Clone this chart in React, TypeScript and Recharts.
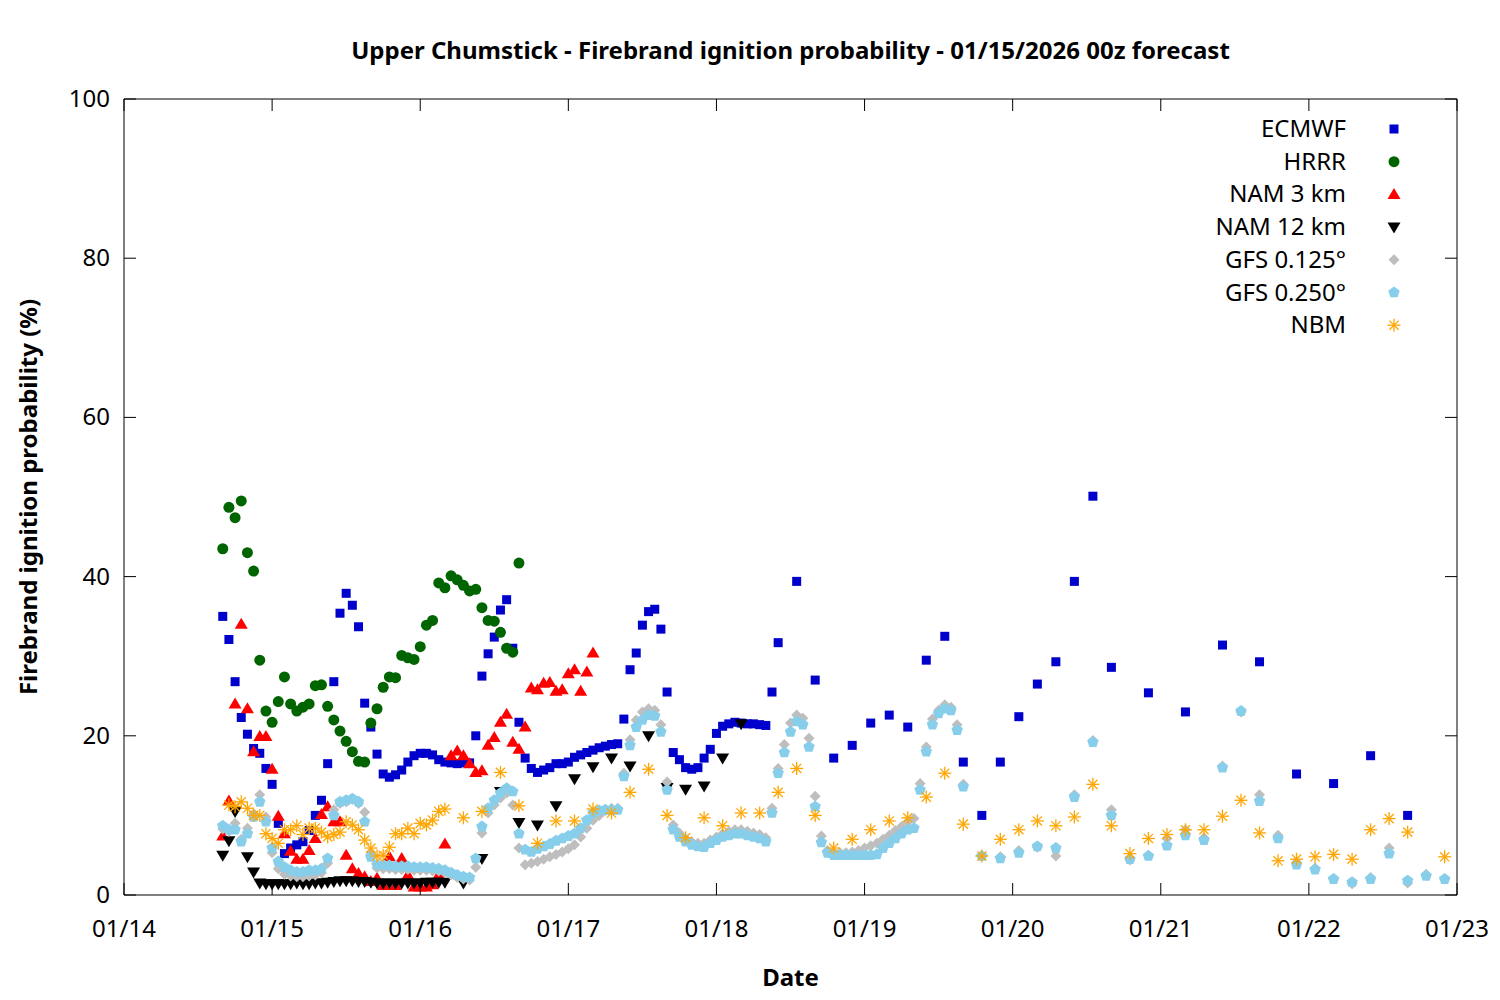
import React from 'react';
import { ScatterChart, Scatter, XAxis, YAxis } from 'recharts';

// hours counted from 01/14 00:00 local time
const dayLabels = ['01/14', '01/15', '01/16', '01/17', '01/18', '01/19', '01/20', '01/21', '01/22', '01/23'];
const xTicks = [0, 24, 48, 72, 96, 120, 144, 168, 192, 216];
const yTicks = [0, 20, 40, 60, 80, 100];

// ECMWF: hourly from h16, 3-hourly from h109, 6-hourly from h166
const ecmwfHourly = [35, 32.1, 26.8, 22.3, 20.2, 18.4, 17.8, 15.9, 13.9, 9.0,
  5.2, 5.9, 6.3, 6.7, 8.1, 10, 11.9, 16.5, 26.8, 35.4,
  37.9, 36.4, 33.7, 24.1, 21.1, 17.7, 15.2, 14.8, 15.1, 15.7,
  16.7, 17.5, 17.8, 17.8, 17.6, 17.0, 16.7, 16.6, 16.5, 16.6,
  16.6, 20, 27.5, 30.3, 32.4, 35.8, 37.1, 31.0, 21.7, 17.2,
  15.9, 15.4, 15.7, 16, 16.5, 16.5, 16.7, 17.3, 17.6, 17.9,
  18.2, 18.5, 18.7, 18.9, 19.0, 22.1, 28.3, 30.4, 33.9, 35.6,
  35.9, 33.4, 25.5, 17.9, 17.0, 16.0, 15.8, 16.0, 17.2, 18.3,
  20.3, 21.2, 21.5, 21.7, 21.6, 21.5, 21.5, 21.4, 21.3, 25.5, 31.7];
const ecmwf3h = [39.4, 27, 17.2, 18.8, 21.6, 22.6, 21.1, 29.5, 32.5, 16.7, 10, 16.7, 22.4, 26.5, 29.3, 39.4, 50.1, 28.6];
const ecmwf6h = [25.4, 23, 31.4, 29.3, 15.2, 14, 17.5, 10];

// HRRR: hourly from h16
const hrrrHourly = [43.5, 48.7, 47.4, 49.5, 43, 40.7, 29.5, 23.1, 21.7, 24.3,
  27.4, 24, 23.1, 23.6, 24, 26.3, 26.4, 23.7, 22, 20.6,
  19.3, 18, 16.8, 16.7, 21.6, 23.4, 26.1, 27.4, 27.3, 30.1,
  29.8, 29.6, 31.2, 33.9, 34.5, 39.2, 38.6, 40.1, 39.6, 38.9,
  38.2, 38.4, 36.1, 34.5, 34.4, 33.0, 31.0, 30.5, 41.7];

// NAM 3 km: hourly from h16
const nam3Hourly = [7.4, 11.8, 24, 34, 23.4, 18, 19.9, 19.9, 15.8, 9.9,
  7.7, 5.5, 4.5, 4.5, 5.6, 7.1, 10.1, 11.1, 9.2, 9.2,
  5.0, 3.3, 2.7, 2.3, 1.7, 2.1, 1.2, 4.8, 1.2, 4.6,
  2.5, 1.0, 1.0, 1.0, 1.3, 2.5, 6.4, 17.5, 18.1, 17.5,
  16.5, 15.4, 15.6, 18.8, 19.8, 21.7, 22.7, 19.2, 18.3, 21.1,
  26, 25.8, 26.6, 26.7, 25.6, 25.8, 27.8, 28.3, 25.6, 28.0, 30.4];

// NAM 12 km: hourly from h16, 3-hourly from h55
const nam12Hourly = [5.0, 6.8, 10.5, null, 4.8, 2.9, 1.5, 1.4, 1.4, 1.4,
  1.4, 1.4, 1.5, 1.4, 1.4, 1.5, 1.5, 1.6, 1.7, 1.8,
  1.8, 1.8, 1.7, 1.7, 1.6, 1.5, 1.5, 1.5, 1.5, 1.5,
  1.5, 1.5, 1.5, 1.6, 1.6, 1.6, 1.6];
const nam12_3h = [1.5, 4.6, 13, 9.1, 8.8, 11.2, 14.6, 16.1, 17.2, 16.2, 20.0, 13.5, 13.3, 13.7, 17.2, 21.5];

// GFS 0.125: hourly from h16, 3-hourly from h139
const gfs125Hourly = [8.3, 8.0, 9.0, 7.0, 8.4, 10.2, 12.6, 9.8, 5.3, 3.3,
  2.6, 2.4, 2.3, 2.3, 2.4, 2.5, 2.8, 4.0, 10.7, 11.5,
  11.7, 12.0, 11.5, 10.4, 5.3, 3.4, 3.3, 3.3, 3.2, 3.2,
  3.2, 3.1, 3.1, 3.1, 3.0, 3.0, 2.8, 2.5, 2.2, 2.0,
  1.9, 3.5, 7.8, 10.3, 11.3, 12.2, 12.8, 11.3, 5.9, 3.8,
  4.0, 4.2, 4.5, 4.8, 5.1, 5.4, 5.8, 6.3, 7.3, 8.4,
  9.4, 10.0, 10.6, 10.9, 10.9, 15.3, 19.5, 22.0, 23.0, 23.4,
  23.2, 21.4, 14.2, 8.8, 7.8, 7.1, 6.7, 6.5, 6.5, 6.9,
  7.3, 7.7, 8.0, 8.2, 8.2, 8.0, 7.8, 7.6, 7.2, 10.9,
  15.9, 18.9, 21.6, 22.6, 22.2, 19.7, 12.4, 7.4, 5.6, 5.3,
  5.3, 5.3, 5.4, 5.6, 5.9, 6.2, 6.5, 7.0, 7.5, 8.1,
  8.6, 9.2, 9.6, 14.0, 18.6, 22.1, 23.2, 23.9, 23.6, 21.4, 13.9];
const gfs125_3h = [4.9, 4.8, 5.6, 6.0, 4.9, 12.6, 19.4, 10.7, 4.4, 5.0, 7.1, 8.2, 7.2,
  16.2, 23.0, 12.6, 7.5, 4.1, 3.4, 2.0, 1.4, 2.2, 5.9, 1.5, 2.6, 2.0];

// GFS 0.250: hourly from h16, 3-hourly from h139
const gfs250Hourly = [8.7, 8.2, 8.2, 6.7, 7.7, 9.8, 11.7, 9.2, 5.9, 4.2,
  3.5, 3.1, 2.9, 2.9, 3.1, 3.1, 3.3, 4.6, 10.0, 11.7,
  11.9, 12.1, 11.7, 9.2, 4.8, 3.8, 3.8, 3.7, 3.6, 3.6,
  3.6, 3.5, 3.5, 3.5, 3.4, 3.3, 3.1, 2.8, 2.5, 2.3,
  2.2, 4.6, 8.6, 10.9, 11.9, 12.8, 13.4, 13.0, 7.7, 5.7,
  5.4, 5.8, 6.1, 6.4, 6.8, 7.1, 7.4, 7.7, 8.4, 9.4,
  10.3, 10.6, 10.7, 10.7, 10.7, 14.9, 18.8, 21.1, 22.0, 22.6,
  22.5, 20.5, 13.2, 8.2, 7.3, 6.7, 6.3, 6.1, 6.0, 6.5,
  6.9, 7.3, 7.5, 7.7, 7.7, 7.5, 7.3, 7.1, 6.7, 10.3,
  15.3, 17.9, 20.5, 21.8, 21.4, 18.6, 11.1, 6.6, 5.3, 5.0,
  5.0, 5.0, 5.0, 5.0, 5.0, 5.0, 5.1, 5.9, 6.5, 7.1,
  7.7, 8.2, 8.4, 13.2, 18.0, 21.4, 22.8, 23.4, 23.2, 20.7, 13.6];
const gfs250_3h = [4.9, 4.6, 5.3, 6.1, 5.9, 12.3, 19.2, 10, 4.5, 4.9, 6.2, 7.5, 6.9,
  16.0, 23.1, 11.8, 7.1, 3.8, 3.2, 2.0, 1.6, 2.0, 5.2, 1.8, 2.4, 2.0];

// NBM: hourly from h17, 3-hourly from h55
const nbmHourly = [11.3, 11.1, 11.7, 10.9, 10.0, 10.0, 7.7, 7.1, 6.5, 8.2,
  8.2, 8.7, 7.6, 8.4, 8.4, 7.9, 7.3, 7.6, 7.9, 9.2,
  8.8, 8.2, 6.9, 5.9, 4.9, 5.0, 6.0, 7.7, 7.7, 8.4,
  7.7, 9.0, 8.8, 9.4, 10.5, 10.8];
const nbm3h = [9.7, 10.5, 15.4, 11.2, 6.5, 9.3, 9.3, 10.8, 10.3, 12.9,
  15.8, 10.0, 7.2, 9.7, 8.7, 10.3, 10.3, 12.9, 15.9, 10.0,
  5.9, 7.0, 8.2, 9.3, 9.7, 12.3, 15.3, 8.9, 4.9, 7.0,
  8.2, 9.3, 8.7, 9.8, 13.9, 8.7, 5.2, 7.1, 7.6, 8.2,
  8.2, 9.9, 11.9, 7.8, 4.3, 4.5, 4.8, 5.1, 4.5, 8.2,
  9.6, 7.9, null, 4.8];

type Pt = { h: number; v: number };
const build = (start: number, step: number, values: (number | null)[]): Pt[] =>
  values.flatMap((v, i) => (v === null ? [] : [{ h: start + i * step, v }]));

const ecmwfData = [...build(16, 1, ecmwfHourly), ...build(109, 3, ecmwf3h), ...build(166, 6, ecmwf6h)];
const hrrrData = build(16, 1, hrrrHourly);
const nam3Data = build(16, 1, nam3Hourly);
const nam12Data = [...build(16, 1, nam12Hourly), ...build(55, 3, nam12_3h)];
const gfs125Data = [...build(16, 1, gfs125Hourly), ...build(139, 3, gfs125_3h)];
const gfs250Data = [...build(16, 1, gfs250Hourly), ...build(139, 3, gfs250_3h)];
const nbmData = [...build(17, 1, nbmHourly), ...build(55, 3, nbm3h)];

// marker shapes
const Square = ({ cx, cy }: any) => <rect x={cx - 4.5} y={cy - 4.5} width={9} height={9} fill="#0000cc" />;
const Dot = ({ cx, cy }: any) => <circle cx={cx} cy={cy} r={5.5} fill="#006400" />;
const TriUp = ({ cx, cy }: any) => (
  <polygon points={`${cx},${cy - 6.5} ${cx - 6.5},${cy + 4.5} ${cx + 6.5},${cy + 4.5}`} fill="#ff0000" />
);
const TriDown = ({ cx, cy }: any) => (
  <polygon points={`${cx},${cy + 6.5} ${cx - 6.5},${cy - 4.5} ${cx + 6.5},${cy - 4.5}`} fill="#000000" />
);
const Diamond = ({ cx, cy }: any) => (
  <polygon points={`${cx},${cy - 5.5} ${cx + 5.5},${cy} ${cx},${cy + 5.5} ${cx - 5.5},${cy}`} fill="#bebebe" />
);
const Pentagon = ({ cx, cy }: any) => {
  const pts = [0, 1, 2, 3, 4].map((k) => {
    const a = -Math.PI / 2 + (k * 2 * Math.PI) / 5;
    return `${cx + 6 * Math.cos(a)},${cy + 6 * Math.sin(a)}`;
  });
  return <polygon points={pts.join(' ')} fill="#87ceeb" />;
};
const Asterisk = ({ cx, cy }: any) => (
  <g stroke="#ffa500" strokeWidth={1.3}>
    <line x1={cx - 6.5} y1={cy} x2={cx + 6.5} y2={cy} />
    <line x1={cx} y1={cy - 6.5} x2={cx} y2={cy + 6.5} />
    <line x1={cx - 4.6} y1={cy - 4.6} x2={cx + 4.6} y2={cy + 4.6} />
    <line x1={cx - 4.6} y1={cy + 4.6} x2={cx + 4.6} y2={cy - 4.6} />
  </g>
);

const legendItems = [
  { name: 'ECMWF', Shape: Square },
  { name: 'HRRR', Shape: Dot },
  { name: 'NAM 3 km', Shape: TriUp },
  { name: 'NAM 12 km', Shape: TriDown },
  { name: 'GFS 0.125°', Shape: Diamond },
  { name: 'GFS 0.250°', Shape: Pentagon },
  { name: 'NBM', Shape: Asterisk },
];

const FONT = '"Noto Sans", "Open Sans", sans-serif';

// tickSize/tickMargin are 0, so x/y handed to the ticks sit on the axis line
const BottomTick = ({ x, y, payload }: any) => (
  <g>
    <line x1={x} x2={x} y1={y} y2={y - 12} stroke="#000" />
    <text x={x} y={y + 42} textAnchor="middle" fontSize={24} fontFamily={FONT} fill="#000">
      {dayLabels[xTicks.indexOf(payload.value)]}
    </text>
  </g>
);
const TopTick = ({ x, y }: any) => <line x1={x} x2={x} y1={y} y2={y + 12} stroke="#000" />;
const LeftTick = ({ x, y, payload }: any) => (
  <g>
    <line x1={x} x2={x + 12} y1={y} y2={y} stroke="#000" />
    <text x={x - 14} y={y + 8} textAnchor="end" fontSize={24} fontFamily={FONT} fill="#000">
      {payload.value}
    </text>
  </g>
);
const RightTick = ({ x, y }: any) => <line x1={x} x2={x - 12} y1={y} y2={y} stroke="#000" />;

const App: React.FC = () => {
  return (
    <div style={{ position: 'absolute', left: 0, top: 0, width: 1500, height: 1000, background: '#fff', fontFamily: FONT }}>
      <ScatterChart width={1500} height={1000} margin={{ top: 69, right: 13, bottom: 75, left: 64 }}>
        <XAxis dataKey="h" type="number" domain={[0, 216]} ticks={xTicks} height={30}
          tickSize={0} tickMargin={0} tick={<BottomTick />} tickLine={false} stroke="#000" allowDataOverflow />
        <XAxis xAxisId="top" orientation="top" dataKey="h" type="number" domain={[0, 216]} ticks={xTicks} height={30}
          tickSize={0} tickMargin={0} tick={<TopTick />} tickLine={false} stroke="#000" allowDataOverflow />
        <YAxis dataKey="v" type="number" domain={[0, 100]} ticks={yTicks} width={60}
          tickSize={0} tickMargin={0} tick={<LeftTick />} tickLine={false} stroke="#000" allowDataOverflow />
        <YAxis yAxisId="right" orientation="right" dataKey="v" type="number" domain={[0, 100]} ticks={yTicks} width={30}
          tickSize={0} tickMargin={0} tick={<RightTick />} tickLine={false} stroke="#000" allowDataOverflow />
        <Scatter name="ECMWF" data={ecmwfData} shape={Square} isAnimationActive={false} />
        <Scatter name="HRRR" data={hrrrData} shape={Dot} isAnimationActive={false} />
        <Scatter name="NAM 3 km" data={nam3Data} shape={TriUp} isAnimationActive={false} />
        <Scatter name="NAM 12 km" data={nam12Data} shape={TriDown} isAnimationActive={false} />
        <Scatter name="GFS 0.125°" data={gfs125Data} shape={Diamond} isAnimationActive={false} />
        <Scatter name="GFS 0.250°" data={gfs250Data} shape={Pentagon} isAnimationActive={false} />
        <Scatter name="NBM" data={nbmData} shape={Asterisk} isAnimationActive={false} />
      </ScatterChart>

      <div style={{ position: 'absolute', left: 124, width: 1333, top: 33, textAlign: 'center', fontSize: 24, fontWeight: 'bold', lineHeight: '34px' }}>
        Upper Chumstick - Firebrand ignition probability - 01/15/2026 00z forecast
      </div>
      <div style={{ position: 'absolute', left: 124, width: 1333, top: 960, textAlign: 'center', fontSize: 24, fontWeight: 'bold', lineHeight: '34px' }}>
        Date
      </div>
      <div style={{ position: 'absolute', left: 28 - 300, top: 497 - 17, width: 600, textAlign: 'center', fontSize: 24, fontWeight: 'bold', lineHeight: '34px', transform: 'rotate(-90deg)' }}>
        Firebrand ignition probability (%)
      </div>

      <svg width={1500} height={1000} style={{ position: 'absolute', left: 0, top: 0, pointerEvents: 'none' }}>
        {legendItems.map((item, i) => {
          const y = 129 + i * 32.7;
          const S = item.Shape;
          return (
            <g key={item.name}>
              <text x={1346} y={y + 8} textAnchor="end" fontSize={24} fontFamily={FONT} fill="#000">{item.name}</text>
              <S cx={1394} cy={y} />
            </g>
          );
        })}
      </svg>
    </div>
  );
};

export default App;
